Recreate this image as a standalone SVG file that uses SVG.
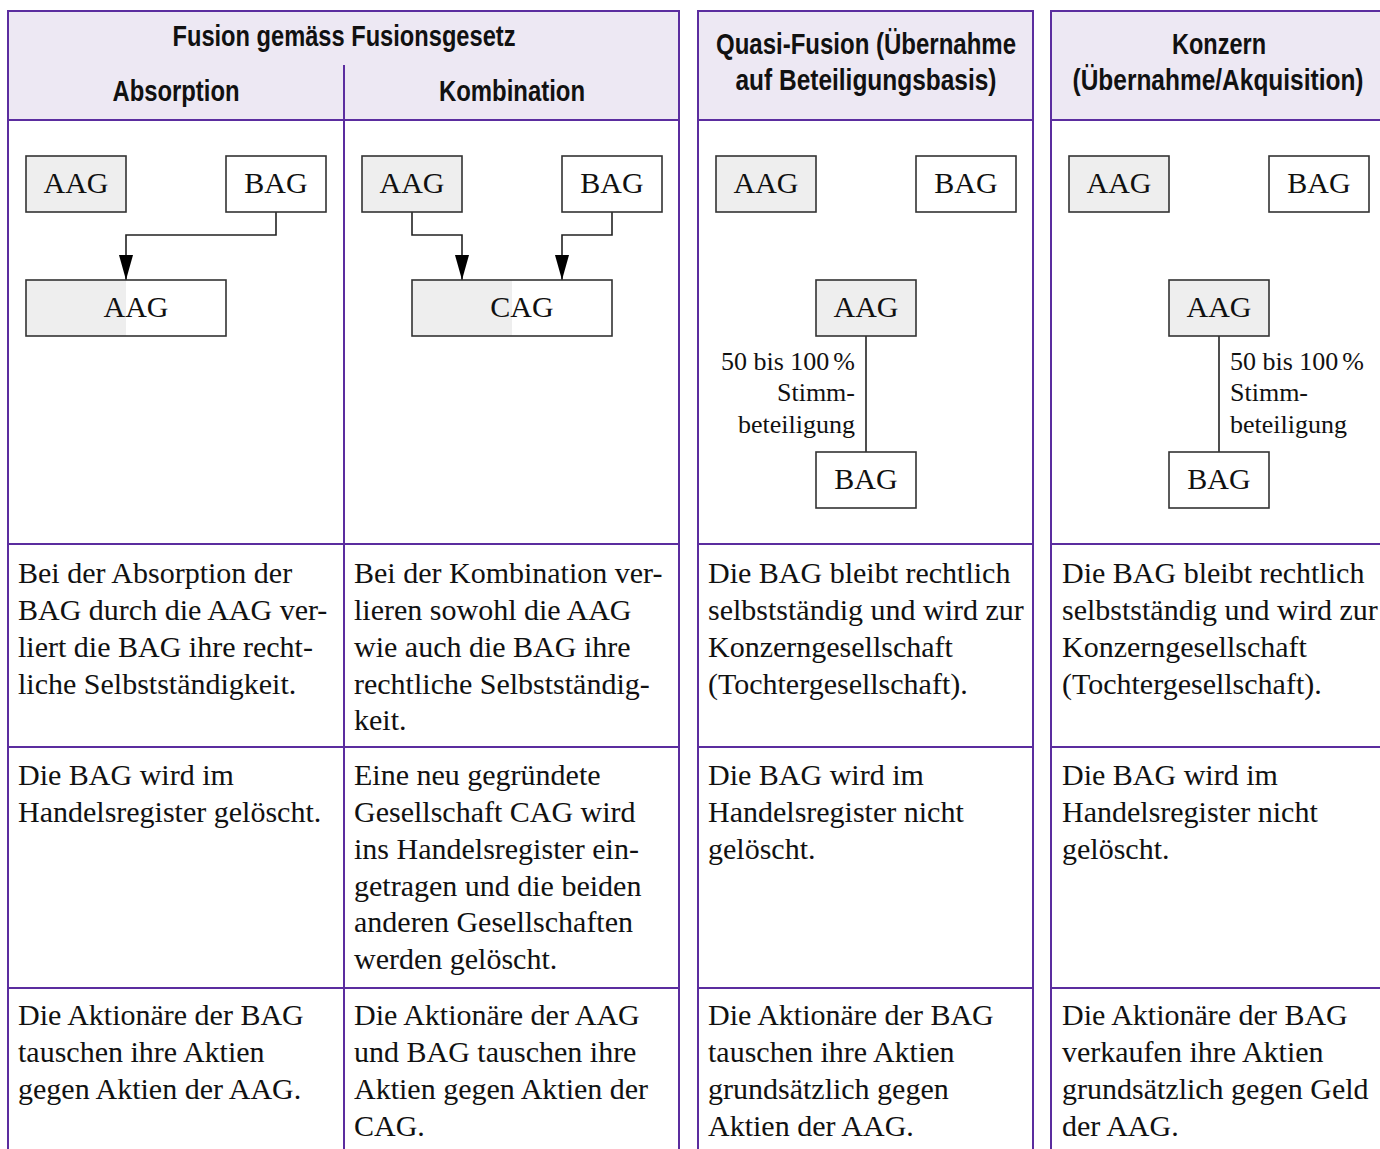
<svg xmlns="http://www.w3.org/2000/svg" width="1380" height="1149" viewBox="0 0 1380 1149">
<style>
.frame{fill:none;stroke:#5b2d9f;stroke-width:2}
.hdr{fill:#ede8f3}
.hd{font-family:"Liberation Sans Narrow","Liberation Sans",Arial,sans-serif;font-weight:bold;font-size:30px;fill:#111;text-anchor:middle}
.bx{fill:#fff;stroke:#333;stroke-width:1.6}
.g{fill:#eeeeee}
.bl{font-family:"Liberation Serif","Times New Roman",serif;font-size:30px;fill:#111;text-anchor:middle}
.lb{font-family:"Liberation Serif","Times New Roman",serif;font-size:26px;fill:#111}
.tx{font-family:"Liberation Serif","Times New Roman",serif;font-size:30px;fill:#111}
.cn{fill:none;stroke:#222;stroke-width:1.6}
</style>
<defs>
<marker id="ah" viewBox="0 0 25 14" refX="25" refY="7" markerWidth="25" markerHeight="14" markerUnits="userSpaceOnUse" orient="auto">
<path d="M0,0 L25,7 L0,14 Z" fill="#000"/>
</marker>
</defs>
<g id="table">
<rect class="hdr" x="8" y="11" width="671" height="109"/>
<rect class="hdr" x="698" y="11" width="335" height="109"/>
<rect class="hdr" x="1051" y="11" width="330" height="109"/>
<path class="frame" d="M8,1149 V11 H679 V1149 M344,65 V1149 M8,120 H679 M8,544 H679 M8,747 H679 M8,988 H679"/>
<path class="frame" d="M698,1149 V11 H1033 V1149 M698,120 H1033 M698,544 H1033 M698,747 H1033 M698,988 H1033"/>
<path class="frame" d="M1051,1149 V11 H1382 M1051,120 H1382 M1051,544 H1382 M1051,747 H1382 M1051,988 H1382"/>
<text class="hd" x="344" y="46" textLength="343" lengthAdjust="spacingAndGlyphs">Fusion gemäss Fusionsgesetz</text>
<text class="hd" x="176" y="101" textLength="127" lengthAdjust="spacingAndGlyphs">Absorption</text>
<text class="hd" x="512" y="101" textLength="146" lengthAdjust="spacingAndGlyphs">Kombination</text>
<text class="hd" x="866" y="54" textLength="300" lengthAdjust="spacingAndGlyphs">Quasi-Fusion (Übernahme</text>
<text class="hd" x="866" y="90" textLength="261" lengthAdjust="spacingAndGlyphs">auf Beteiligungsbasis)</text>
<text class="hd" x="1219" y="54" textLength="94" lengthAdjust="spacingAndGlyphs">Konzern</text>
<text class="hd" x="1218" y="90" textLength="291" lengthAdjust="spacingAndGlyphs">(Übernahme/Akquisition)</text>
</g>
<g id="connectors">
<path class="cn" d="M276,212 V235 H126 V280" marker-end="url(#ah)"/>
<path class="cn" d="M412,212 V235 H462 V280" marker-end="url(#ah)"/>
<path class="cn" d="M612,212 V235 H562 V280" marker-end="url(#ah)"/>
<path class="cn" d="M866,336 V452"/>
<path class="cn" d="M1219,336 V452"/>
</g>
<g id="n1-aag"><rect class="bx g" x="26" y="156" width="100" height="56"/><text class="bl" x="76" y="193">AAG</text></g>
<g id="n1-bag"><rect class="bx" x="226" y="156" width="100" height="56"/><text class="bl" x="276" y="193">BAG</text></g>
<g id="n1-res"><rect class="g" x="26" y="280" width="100" height="56"/><rect class="bx" x="26" y="280" width="200" height="56" style="fill:none"/><text class="bl" x="136" y="317">AAG</text></g>
<g id="n2-aag"><rect class="bx g" x="362" y="156" width="100" height="56"/><text class="bl" x="412" y="193">AAG</text></g>
<g id="n2-bag"><rect class="bx" x="562" y="156" width="100" height="56"/><text class="bl" x="612" y="193">BAG</text></g>
<g id="n2-res"><rect class="g" x="412" y="280" width="100" height="56"/><rect class="bx" x="412" y="280" width="200" height="56" style="fill:none"/><text class="bl" x="522" y="317">CAG</text></g>
<g id="n3-aag"><rect class="bx g" x="716" y="156" width="100" height="56"/><text class="bl" x="766" y="193">AAG</text></g>
<g id="n3-bag"><rect class="bx" x="916" y="156" width="100" height="56"/><text class="bl" x="966" y="193">BAG</text></g>
<g id="n3-aag2"><rect class="bx g" x="816" y="280" width="100" height="56"/><text class="bl" x="866" y="317">AAG</text></g>
<g id="n3-bag2"><rect class="bx" x="816" y="452" width="100" height="56"/><text class="bl" x="866" y="489">BAG</text></g>
<g id="n3-label" class="lb" text-anchor="end"><text x="855" y="370">50 bis 100<tspan dx="4">%</tspan></text><text x="855" y="401">Stimm-</text><text x="855" y="433">beteiligung</text></g>
<g id="n4-aag"><rect class="bx g" x="1069" y="156" width="100" height="56"/><text class="bl" x="1119" y="193">AAG</text></g>
<g id="n4-bag"><rect class="bx" x="1269" y="156" width="100" height="56"/><text class="bl" x="1319" y="193">BAG</text></g>
<g id="n4-aag2"><rect class="bx g" x="1169" y="280" width="100" height="56"/><text class="bl" x="1219" y="317">AAG</text></g>
<g id="n4-bag2"><rect class="bx" x="1169" y="452" width="100" height="56"/><text class="bl" x="1219" y="489">BAG</text></g>
<g id="n4-label" class="lb"><text x="1230" y="370">50 bis 100<tspan dx="4">%</tspan></text><text x="1230" y="401">Stimm-</text><text x="1230" y="433">beteiligung</text></g>
<g id="texts" class="tx">
<text x="18" y="583">Bei der Absorption der</text>
<text x="18" y="620">BAG durch die AAG ver-</text>
<text x="18" y="657">liert die BAG ihre recht-</text>
<text x="18" y="694">liche Selbstständigkeit.</text>
<text x="354" y="583">Bei der Kombination ver-</text>
<text x="354" y="620">lieren sowohl die AAG</text>
<text x="354" y="657">wie auch die BAG ihre</text>
<text x="354" y="694">rechtliche Selbstständig-</text>
<text x="354" y="730">keit.</text>
<text x="708" y="583">Die BAG bleibt rechtlich</text>
<text x="708" y="620">selbstständig und wird zur</text>
<text x="708" y="657">Konzerngesellschaft</text>
<text x="708" y="694">(Tochtergesellschaft).</text>
<text x="1062" y="583">Die BAG bleibt rechtlich</text>
<text x="1062" y="620">selbstständig und wird zur</text>
<text x="1062" y="657">Konzerngesellschaft</text>
<text x="1062" y="694">(Tochtergesellschaft).</text>
<text x="18" y="785">Die BAG wird im</text>
<text x="18" y="822">Handelsregister gelöscht.</text>
<text x="354" y="785">Eine neu gegründete</text>
<text x="354" y="822">Gesellschaft CAG wird</text>
<text x="354" y="859">ins Handelsregister ein-</text>
<text x="354" y="896">getragen und die beiden</text>
<text x="354" y="932">anderen Gesellschaften</text>
<text x="354" y="969">werden gelöscht.</text>
<text x="708" y="785">Die BAG wird im</text>
<text x="708" y="822">Handelsregister nicht</text>
<text x="708" y="859">gelöscht.</text>
<text x="1062" y="785">Die BAG wird im</text>
<text x="1062" y="822">Handelsregister nicht</text>
<text x="1062" y="859">gelöscht.</text>
<text x="18" y="1025">Die Aktionäre der BAG</text>
<text x="18" y="1062">tauschen ihre Aktien</text>
<text x="18" y="1099">gegen Aktien der AAG.</text>
<text x="354" y="1025">Die Aktionäre der AAG</text>
<text x="354" y="1062">und BAG tauschen ihre</text>
<text x="354" y="1099">Aktien gegen Aktien der</text>
<text x="354" y="1136">CAG.</text>
<text x="708" y="1025">Die Aktionäre der BAG</text>
<text x="708" y="1062">tauschen ihre Aktien</text>
<text x="708" y="1099">grundsätzlich gegen</text>
<text x="708" y="1136">Aktien der AAG.</text>
<text x="1062" y="1025">Die Aktionäre der BAG</text>
<text x="1062" y="1062">verkaufen ihre Aktien</text>
<text x="1062" y="1099">grundsätzlich gegen Geld</text>
<text x="1062" y="1136">der AAG.</text>
</g>
</svg>
